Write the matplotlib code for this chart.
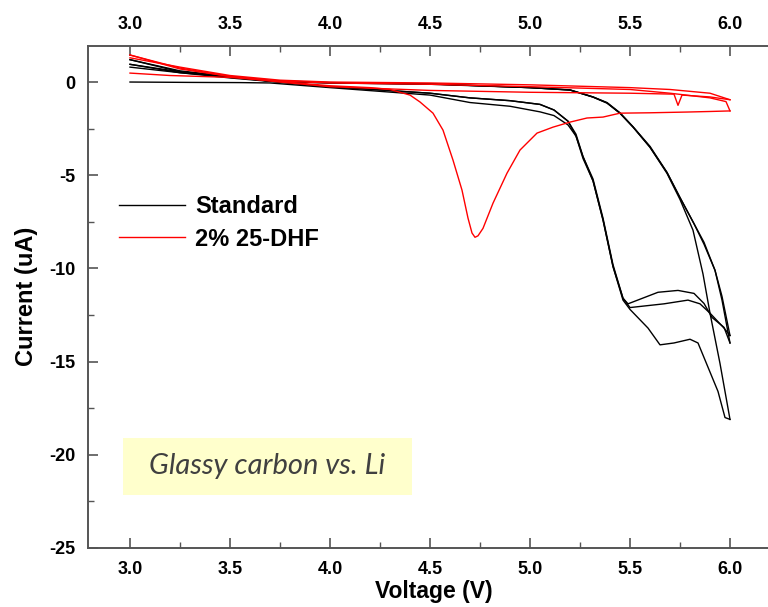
import matplotlib.pyplot as plt
from matplotlib.patches import Rectangle

# ---- Standard electrolyte (black), three cycles ----
std_v1 = [3.0, 3.3, 3.55, 3.7, 4.0, 4.5, 4.7, 4.9, 5.05, 5.12, 5.19, 5.23, 5.265, 5.315, 5.365, 5.415, 5.465,
          5.5, 5.59, 5.65, 5.72, 5.8, 5.84, 5.89, 5.94, 5.975, 6.0]
std_i1 = [0.0, -0.02, -0.03, -0.05, -0.3, -0.7, -1.1, -1.3, -1.6, -1.8, -2.3, -2.9, -4.0, -5.3, -7.4, -9.9, -11.7,
          -12.2, -13.2, -14.1, -14.0, -13.8, -14.0, -15.3, -16.6, -18.0, -18.1]
std_v1r = [6.0, 5.95, 5.9, 5.865, 5.815, 5.75, 5.685, 5.6, 5.515, 5.45, 5.385, 5.315, 5.2, 5.0, 4.5, 4.0, 3.7,
           3.5, 3.25, 3.0]
std_i1r = [-18.1, -15.1, -12.4, -10.3, -7.95, -6.3, -4.9, -3.5, -2.4, -1.67, -1.13, -0.81, -0.43, -0.3, -0.1,
           -0.05, 0.05, 0.3, 0.6, 1.2]

std_v2 = [3.0, 3.25, 3.5, 4.0, 4.5, 4.7, 4.9, 5.05, 5.12, 5.19, 5.23, 5.265, 5.315, 5.365, 5.415, 5.465, 5.5,
          5.67, 5.79, 5.85, 5.9, 5.97, 6.0]
std_i2 = [1.2, 0.55, 0.25, -0.25, -0.6, -0.85, -1.0, -1.2, -1.5, -2.1, -2.8, -4.0, -5.2, -7.3, -9.8, -11.6, -12.1,
          -11.9, -11.7, -11.9, -12.4, -13.2, -13.6]
std_v2r = [6.0, 5.96, 5.925, 5.87, 5.82, 5.75, 5.685, 5.6, 5.515, 5.45, 5.385, 5.315, 5.2, 5.0, 4.5, 4.0,
           3.7, 3.5, 3.25, 3.0]
std_i2r = [-13.6, -11.5, -10.1, -8.7, -7.6, -6.2, -4.85, -3.45, -2.4, -1.65, -1.1, -0.8, -0.42, -0.3, -0.1,
           -0.03, 0.08, 0.3, 0.55, 0.95]

std_v3 = [3.0, 3.25, 3.5, 4.0, 4.5, 4.7, 4.9, 5.05, 5.12, 5.19, 5.23, 5.265, 5.315, 5.365, 5.415, 5.465, 5.49,
          5.64, 5.74, 5.82, 5.87, 5.91, 5.97, 6.0]
std_i3 = [0.95, 0.5, 0.22, -0.25, -0.6, -0.85, -1.0, -1.2, -1.5, -2.1, -2.9, -4.1, -5.3, -7.4, -9.9, -11.6, -11.9,
          -11.28, -11.18, -11.34, -11.88, -12.63, -13.16, -14.0]
std_v3r = [6.0, 5.96, 5.925, 5.87, 5.82, 5.75, 5.685, 5.6, 5.515, 5.45, 5.385, 5.315, 5.2, 5.0, 4.5, 4.0,
           3.7, 3.5, 3.25, 3.0]
std_i3r = [-14.0, -11.7, -10.1, -8.6, -7.6, -6.2, -4.85, -3.5, -2.42, -1.68, -1.12, -0.8, -0.43, -0.3, -0.12,
           -0.05, 0.05, 0.28, 0.5, 0.8]

# ---- 2% 25-DHF (red), two cycles ----
dhf_v1 = [3.0, 3.2, 3.5, 4.0, 4.2, 4.3, 4.4, 4.45, 4.515, 4.565, 4.615, 4.66, 4.69, 4.71, 4.725, 4.74, 4.765,
          4.815, 4.885, 4.95, 5.035, 5.115, 5.2, 5.285, 5.365, 5.45, 5.6, 5.785, 5.9, 6.0]
dhf_i1 = [0.48, 0.35, 0.25, -0.2, -0.3, -0.4, -0.7, -1.07, -1.67, -2.58, -4.19, -5.8, -7.3, -8.1, -8.33, -8.25,
          -7.85, -6.5, -4.89, -3.65, -2.74, -2.42, -2.15, -1.93, -1.88, -1.67, -1.65, -1.61, -1.58, -1.55]
dhf_v1r = [6.0, 5.98, 5.9, 5.7, 5.5, 5.0, 4.5, 4.0, 3.75, 3.5, 3.25, 3.0]
dhf_i1r = [-1.55, -1.05, -0.85, -0.6, -0.4, -0.25, -0.12, -0.05, 0.05, 0.3, 0.75, 1.45]

dhf_v2 = [3.0, 3.25, 3.5, 3.75, 4.0, 4.5, 5.0, 5.5, 5.72, 5.74, 5.76, 5.9, 6.0]
dhf_i2 = [1.45, 0.7, 0.3, 0.0, -0.25, -0.45, -0.55, -0.6, -0.65, -1.25, -0.7, -0.8, -0.95]
dhf_v2r = [6.0, 5.9, 5.7, 5.5, 5.0, 4.5, 4.0, 3.75, 3.5, 3.25, 3.0]
dhf_i2r = [-0.95, -0.6, -0.4, -0.3, -0.15, -0.05, 0.0, 0.1, 0.35, 0.8, 1.3]

xticks = [3.0, 3.5, 4.0, 4.5, 5.0, 5.5, 6.0]
yticks = [0, -5, -10, -15, -20, -25]

plt.rcParams['font.family'] = ['Liberation Sans Narrow', 'Liberation Sans', 'DejaVu Sans']
plt.rcParams['font.weight'] = 'bold'

fig = plt.figure(figsize=(7.68, 6.07), dpi=100)
ax = fig.add_axes([88 / 768, 59 / 607, 692 / 768, 502.5 / 607])

black_runs = [(std_v1, std_i1), (std_v1r, std_i1r), (std_v2, std_i2), (std_v2r, std_i2r),
              (std_v3, std_i3), (std_v3r, std_i3r)]
red_runs = [(dhf_v1, dhf_i1), (dhf_v1r, dhf_i1r), (dhf_v2, dhf_i2), (dhf_v2r, dhf_i2r)]

for k, (v, i) in enumerate(black_runs):
    ax.plot(v, i, color='black', lw=1.0, label='Standard' if k == 0 else None)
for k, (v, i) in enumerate(red_runs):
    ax.plot(v, i, color='red', lw=1.0, label='2% 25-DHF' if k == 0 else None)

ax.set_xlim(2.79, 6.25)
ax.set_ylim(-25, 1.96)
ax.set_xticks(xticks)
ax.set_xticklabels(['%.1f' % t for t in xticks])
ax.set_xticks([3.25, 3.75, 4.25, 4.75, 5.25, 5.75], minor=True)
ax.set_yticks(yticks)
ax.set_yticklabels(['%d' % t for t in yticks])
ax.set_yticks([-2.5, -7.5, -12.5, -17.5, -22.5], minor=True)

ax.tick_params(axis='x', which='both', direction='in', top=True, labeltop=True, color='#555555')
ax.tick_params(axis='y', which='both', direction='in', color='#555555')
ax.tick_params(which='major', length=7, width=1.2, pad=9, labelsize=13)
ax.tick_params(which='minor', length=4, width=1.0)
for s in ax.spines.values():
    s.set_color('#555555')
    s.set_linewidth(1.4)

ax.set_xlabel('Voltage (V)', fontweight='bold', fontsize=16.5, labelpad=2)
ax.set_ylabel('Current (uA)', fontweight='bold', fontsize=17, labelpad=8)

ax.legend(loc='upper left', bbox_to_anchor=(0.0448, 0.702), frameon=False, borderpad=0, borderaxespad=0,
          handlelength=2.8, handletextpad=0.42, labelspacing=0.4,
          prop={'family': 'Liberation Sans', 'weight': 'bold', 'size': 17})

ax.add_patch(Rectangle((2.965, -22.14), 1.445, 3.06, facecolor='#ffffcc', edgecolor='none', zorder=0))
ax.text(3.685, -20.6, 'Glassy carbon vs. Li', ha='center', va='center', style='italic', fontweight='normal',
        color='#404040', fontsize=21, fontfamily='Lato')

fig.savefig('out.png', dpi=100)
